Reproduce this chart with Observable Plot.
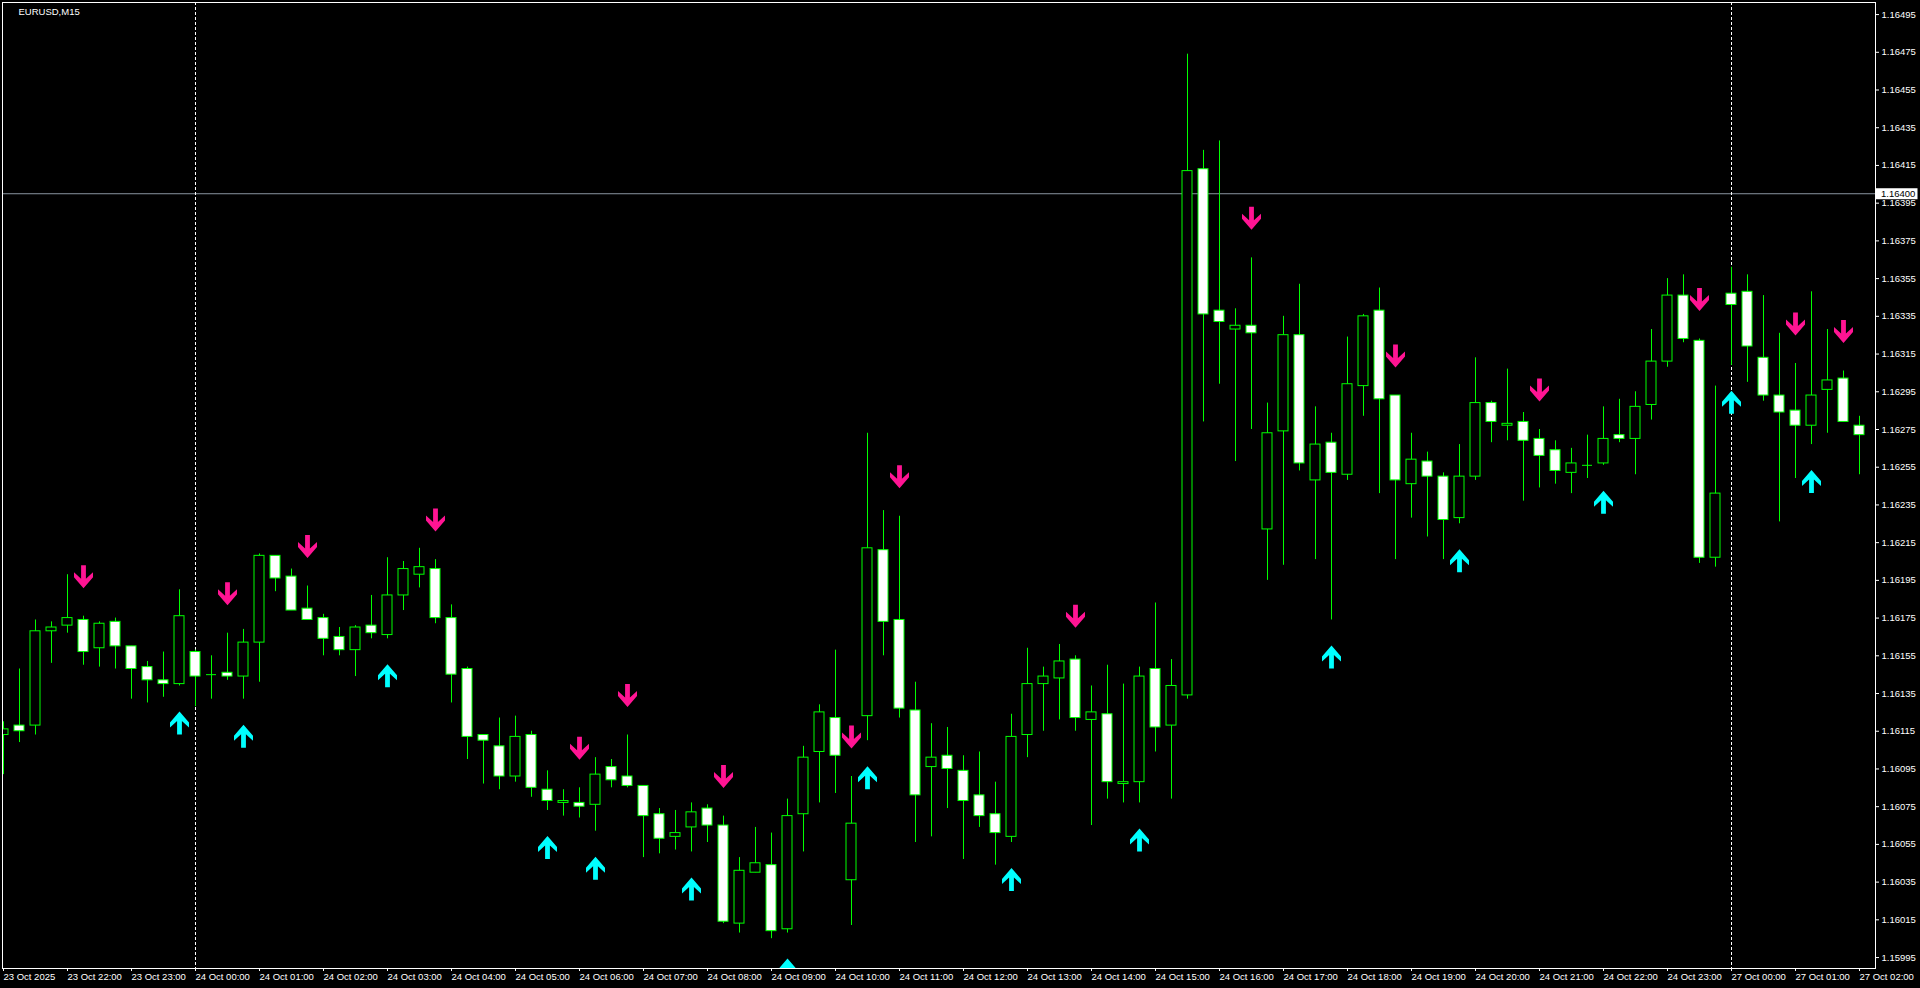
<!DOCTYPE html>
<html><head><meta charset="utf-8">
<script src="https://cdn.jsdelivr.net/npm/d3@7"></script>
<script src="https://cdn.jsdelivr.net/npm/@observablehq/plot@0.6"></script>
<style>
html,body{margin:0;padding:0;background:#000;overflow:hidden;}
#chart svg{display:block;}
</style></head>
<body><div id="chart"></div>
<script>
const symbolName = "EURUSD,M15";
const open = [1.16113,1.16118,1.16118,1.16168,1.16171,1.16174,1.16159,1.16173,1.16160,1.16149,1.16142,1.16140,1.16157,1.16145,1.16146,1.16144,1.16162,1.16208,1.16197,1.16180,1.16175,1.16165,1.16158,1.16171,1.16166,1.16187,1.16198,1.16201,1.16175,1.16148,1.16113,1.16107,1.16091,1.16113,1.16084,1.16077,1.16077,1.16076,1.16096,1.16091,1.16086,1.16071,1.16059,1.16064,1.16074,1.16065,1.16013,1.16040,1.16044,1.16010,1.16071,1.16104,1.16122,1.16036,1.16123,1.16211,1.16174,1.16126,1.16096,1.16102,1.16094,1.16081,1.16071,1.16059,1.16113,1.16140,1.16143,1.16153,1.16121,1.16124,1.16087,1.16088,1.16148,1.16118,1.16134,1.16413,1.16338,1.16328,1.16330,1.16222,1.16274,1.16325,1.16248,1.16268,1.16251,1.16298,1.16338,1.16293,1.16246,1.16258,1.16250,1.16228,1.16250,1.16289,1.16277,1.16279,1.16270,1.16264,1.16252,1.16256,1.16257,1.16272,1.16270,1.16288,1.16311,1.16346,1.16322,1.16207,1.16347,1.16348,1.16313,1.16293,1.16285,1.16277,1.16296,1.16302,1.16277];
const high = [1.16120,1.16148,1.16174,1.16173,1.16198,1.16176,1.16173,1.16175,1.16160,1.16152,1.16157,1.16190,1.16158,1.16155,1.16167,1.16169,1.16209,1.16208,1.16201,1.16192,1.16177,1.16170,1.16171,1.16187,1.16207,1.16205,1.16212,1.16206,1.16182,1.16149,1.16113,1.16122,1.16123,1.16115,1.16094,1.16084,1.16085,1.16101,1.16100,1.16113,1.16086,1.16074,1.16073,1.16077,1.16076,1.16070,1.16048,1.16064,1.16061,1.16079,1.16107,1.16129,1.16158,1.16091,1.16273,1.16232,1.16229,1.16141,1.16119,1.16117,1.16102,1.16104,1.16088,1.16124,1.16159,1.16149,1.16161,1.16155,1.16139,1.16150,1.16140,1.16149,1.16183,1.16153,1.16474,1.16423,1.16428,1.16339,1.16366,1.16289,1.16335,1.16352,1.16287,1.16273,1.16324,1.16336,1.16350,1.16293,1.16273,1.16263,1.16252,1.16267,1.16313,1.16290,1.16307,1.16284,1.16275,1.16269,1.16265,1.16272,1.16287,1.16291,1.16295,1.16328,1.16355,1.16357,1.16323,1.16298,1.16361,1.16357,1.16346,1.16326,1.16310,1.16348,1.16328,1.16306,1.16282];
const low = [1.16092,1.16109,1.16113,1.16151,1.16167,1.16150,1.16149,1.16148,1.16132,1.16130,1.16133,1.16139,1.16128,1.16132,1.16142,1.16132,1.16141,1.16189,1.16179,1.16174,1.16155,1.16155,1.16144,1.16164,1.16164,1.16179,1.16191,1.16172,1.16130,1.16100,1.16087,1.16084,1.16088,1.16080,1.16073,1.16070,1.16069,1.16062,1.16085,1.16085,1.16048,1.16050,1.16052,1.16051,1.16056,1.16013,1.16008,1.16040,1.16005,1.16008,1.16051,1.16077,1.16082,1.16012,1.16110,1.16155,1.16122,1.16056,1.16059,1.16074,1.16047,1.16064,1.16044,1.16056,1.16101,1.16115,1.16121,1.16115,1.16065,1.16079,1.16077,1.16077,1.16104,1.16079,1.16132,1.16279,1.16299,1.16258,1.16275,1.16195,1.16203,1.16253,1.16206,1.16174,1.16248,1.16282,1.16241,1.16206,1.16228,1.16218,1.16206,1.16225,1.16248,1.16268,1.16269,1.16237,1.16244,1.16246,1.16241,1.16249,1.16256,1.16268,1.16251,1.16280,1.16308,1.16321,1.16204,1.16202,1.16309,1.16300,1.16290,1.16226,1.16249,1.16267,1.16273,1.16279,1.16251];
const close = [1.16116,1.16115,1.16168,1.16170,1.16175,1.16157,1.16172,1.16160,1.16148,1.16142,1.16140,1.16176,1.16144,1.16145,1.16144,1.16162,1.16208,1.16196,1.16179,1.16174,1.16164,1.16158,1.16170,1.16167,1.16187,1.16201,1.16202,1.16175,1.16145,1.16112,1.16110,1.16091,1.16112,1.16085,1.16078,1.16078,1.16075,1.16092,1.16089,1.16086,1.16070,1.16058,1.16061,1.16072,1.16065,1.16014,1.16041,1.16045,1.16009,1.16070,1.16101,1.16125,1.16102,1.16066,1.16212,1.16173,1.16127,1.16081,1.16101,1.16095,1.16078,1.16070,1.16061,1.16112,1.16140,1.16144,1.16152,1.16122,1.16125,1.16088,1.16088,1.16144,1.16117,1.16139,1.16412,1.16336,1.16332,1.16330,1.16326,1.16273,1.16325,1.16257,1.16267,1.16252,1.16299,1.16335,1.16291,1.16248,1.16259,1.16250,1.16227,1.16250,1.16289,1.16279,1.16278,1.16269,1.16261,1.16253,1.16257,1.16256,1.16270,1.16270,1.16287,1.16311,1.16346,1.16323,1.16207,1.16241,1.16341,1.16319,1.16293,1.16284,1.16277,1.16293,1.16301,1.16279,1.16272];
const sellSignals = [5,14,19,27,36,39,45,53,56,67,78,87,96,106,112,115];
const buySignals = [11,15,24,34,37,43,49,54,63,71,83,91,100,108,113];
const daySeparators = [12,108];
const levelPrice = 1.16400;
const timeTickIndex = [0,4,8,12,16,20,24,28,32,36,40,44,48,52,56,60,64,68,72,76,80,84,88,92,96,100,104,108,112,116];
const timeTickLabels = ["23 Oct 2025","23 Oct 22:00","23 Oct 23:00","24 Oct 00:00","24 Oct 01:00","24 Oct 02:00","24 Oct 03:00","24 Oct 04:00","24 Oct 05:00","24 Oct 06:00","24 Oct 07:00","24 Oct 08:00","24 Oct 09:00","24 Oct 10:00","24 Oct 11:00","24 Oct 12:00","24 Oct 13:00","24 Oct 14:00","24 Oct 15:00","24 Oct 16:00","24 Oct 17:00","24 Oct 18:00","24 Oct 19:00","24 Oct 20:00","24 Oct 21:00","24 Oct 22:00","24 Oct 23:00","27 Oct 00:00","27 Oct 01:00","27 Oct 02:00"];
const priceTicks = [1.15995,1.16015,1.16035,1.16055,1.16075,1.16095,1.16115,1.16135,1.16155,1.16175,1.16195,1.16215,1.16235,1.16255,1.16275,1.16295,1.16315,1.16335,1.16355,1.16375,1.16395,1.16415,1.16435,1.16455,1.16475,1.16495];

const bars = open.map((o, i) => ({i, open: o, high: high[i], low: low[i], close: close[i]}));
const sells = sellSignals.map(i => bars[i]);
const buys = buySignals.map(i => bars[i]);
const labelAt = new Map(timeTickIndex.map((k, j) => [k, timeTickLabels[j]]));

const downPts = [[-2.4,-11.5],[2.4,-11.5],[2.4,2],[9.5,-4.5],[9.5,0.5],[0,11.5],[-9.5,0.5],[-9.5,-4.5],[-2.4,2]];
function shape(pts, flip) {
  return {draw(ctx) {
    pts.forEach(([x, y], j) => j ? ctx.lineTo(x, flip ? -y : y) : ctx.moveTo(x, flip ? -y : y));
    ctx.closePath();
  }};
}
const arrowDown = shape(downPts, false);
const arrowUp = shape(downPts, true);

const GREEN = "#00ff00";
const font = "'Liberation Sans', Arial, sans-serif";

const chart = Plot.plot({
  width: 1920, height: 988,
  marginLeft: 2, marginTop: 2, marginRight: 45, marginBottom: 20,
  style: {background: "#000", color: "#fff", fontFamily: font, fontSize: "9.5px"},
  x: {type: "linear", domain: [-0.0625, 117]},
  y: {domain: [1.159892, 1.165014]},
  color: {type: "identity"},
  marks: [
    Plot.ruleY([levelPrice], {stroke: "#8a94a0", clip: true}),
    Plot.ruleX(daySeparators, {stroke: "#fff", strokeDasharray: "3,2"}),
    Plot.ruleX(bars, {x: "i", y1: "low", y2: "high", stroke: GREEN, clip: true}),
    Plot.rect(bars, {x1: d => d.i - 0.5, x2: d => d.i + 0.5, y1: "open", y2: "close", insetLeft: 3, insetRight: 3,
      fill: d => d.close < d.open ? "#ffffff" : "#000000", stroke: GREEN, clip: true}),
    Plot.ruleY(bars.filter(d => d.open === d.close), {y: "close", x1: d => d.i - 0.5, x2: d => d.i + 0.5, insetLeft: 3, insetRight: 3, stroke: GREEN}),
    Plot.dot(sells, {x: "i", y: "high", dy: -39.5, r: 1, symbol: arrowDown, fill: "#ff1493", stroke: "none", clip: true}),
    Plot.dot(buys, {x: "i", y: "low", dy: 37, r: 1, symbol: arrowUp, fill: "#00ffff", stroke: "none", clip: true}),
    Plot.frame({stroke: "#fff"}),
    Plot.axisY({anchor: "right", ticks: priceTicks, tickFormat: d => d.toFixed(5), tickSize: 3, tickPadding: 3, label: null, color: "#fff"}),
    Plot.axisX({anchor: "bottom", ticks: timeTickIndex, tickFormat: k => labelAt.get(k), tickSize: 3, tickPadding: 2, textAnchor: "start", label: null, color: "#fff"}),
    Plot.text([symbolName], {frameAnchor: "top-left", dx: 16, dy: 9, text: d => d, fill: "#fff", textAnchor: "start", lineAnchor: "middle"})
  ]
});
document.getElementById("chart").append(chart);

// current level tag on the price axis
const yScale = chart.scale("y");
const yv = yScale.apply(levelPrice);
const svg = d3.select(chart);
const xr = 1920 - 45;
svg.append("rect").attr("x", xr + 0.5).attr("y", yv - 5).attr("width", 42).attr("height", 11).attr("fill", "#fff");
svg.append("text").attr("x", xr + 6).attr("y", yv + 0.5).attr("dominant-baseline", "central")
  .attr("text-anchor", "start").attr("fill", "#000").attr("font-family", font).attr("font-size", "9.5px")
  .text(levelPrice.toFixed(5));
</script>
</body></html>
